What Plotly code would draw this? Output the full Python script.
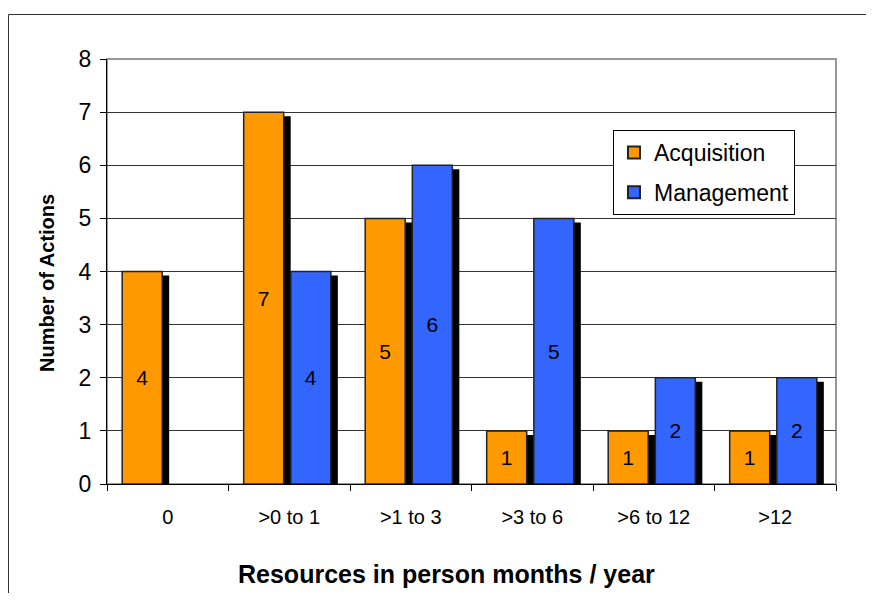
import plotly.graph_objects as go

categories = ["0", ">0 to 1", ">1 to 3", ">3 to 6", ">6 to 12", ">12"]
acquisition = [4, 7, 5, 1, 1, 1]
management = [None, 4, 6, 5, 2, 2]

ORANGE = "#FF9900"
BLUE = "#3366FF"
FONT = "Liberation Sans, Arial, sans-serif"

# page is offset by the 8px default body margin (on every side)
PAD = 8
W = 729.0   # plot width px
H = 425.0   # plot height px
PL, PT = 107, 59     # plot left/top on page
FIG_W = 874 - 2 * PAD
FIG_H = 601 - 2 * PAD
cat_px = W / len(categories)
bar_w = 40 / cat_px
off_acq = -0.375
off_mgmt = 0.013
sh_dx = 7 / cat_px
sh_dy = 4 / H * 8

def shadow(vals):
    return [None if v is None else v - sh_dy for v in vals]

fig = go.Figure()
fig.add_trace(go.Bar(x=categories, y=shadow(acquisition), offset=off_acq + sh_dx, width=bar_w,
                     marker=dict(color="black", line=dict(width=0)), showlegend=False, hoverinfo="skip"))
fig.add_trace(go.Bar(x=categories, y=shadow(management), offset=off_mgmt + sh_dx, width=bar_w,
                     marker=dict(color="black", line=dict(width=0)), showlegend=False, hoverinfo="skip"))
fig.add_trace(go.Bar(x=categories, y=acquisition, name="Acquisition", offset=off_acq, width=bar_w,
                     marker=dict(color=ORANGE, line=dict(color="#222", width=1.5)),
                     text=[str(v) for v in acquisition], textposition="inside", insidetextanchor="middle",
                     textangle=0, textfont=dict(color="black", size=21, family=FONT),
                     legendgroup="a"))
fig.add_trace(go.Bar(x=categories, y=management, name="Management", offset=off_mgmt, width=bar_w,
                     marker=dict(color=BLUE, line=dict(color="#222", width=1.5)),
                     text=["" if v is None else str(v) for v in management], textposition="inside",
                     insidetextanchor="middle", textangle=0,
                     textfont=dict(color="black", size=21, family=FONT),
                     legendgroup="m"))

def px_x(px):
    return (px - PL) / W

def px_y(py):
    return (PT + H - py) / H

fig.update_layout(
    width=FIG_W, height=FIG_H,
    margin=dict(l=PL - PAD, r=FIG_W - (PL - PAD) - int(W), t=PT - PAD,
                b=FIG_H - (PT - PAD) - int(H)),
    barmode="overlay",
    paper_bgcolor="white", plot_bgcolor="white",
    font=dict(family=FONT, color="black"),
    xaxis=dict(type="category", range=[-0.5, 5.5], tickson="boundaries", ticks="outside",
               ticklen=6, tickcolor="black", showline=True, linecolor="black", linewidth=1,
               showgrid=False, tickfont=dict(size=20), ticklabelstandoff=15, zeroline=False),
    yaxis=dict(range=[0, 8], dtick=1, ticks="outside", ticklen=6, tickcolor="black",
               showline=True, linecolor="black", linewidth=1, gridcolor="#333", gridwidth=1,
               tickfont=dict(size=23), ticklabelstandoff=4, zeroline=False),
    legend=dict(x=px_x(613), y=px_y(130), xanchor="left", yanchor="top",
                bgcolor="white", bordercolor="black", borderwidth=1,
                font=dict(size=23), tracegroupgap=7, itemsizing="constant"),
    shapes=[
        dict(type="rect", xref="paper", yref="paper", x0=0, x1=1, y0=0, y1=1,
             line=dict(color="#999", width=2), layer="below"),
        dict(type="line", xref="paper", yref="paper", x0=px_x(8.5), x1=px_x(8.5),
             y0=px_y(620), y1=px_y(14.5), line=dict(color="#333", width=1), layer="below"),
        dict(type="line", xref="paper", yref="paper", x0=px_x(8.5), x1=px_x(880),
             y0=px_y(14.5), y1=px_y(14.5), line=dict(color="#333", width=1), layer="below"),
    ],
    annotations=[
        dict(text="<b>Resources in person months / year</b>", xref="paper", yref="paper",
             x=px_x(446), y=px_y(574), showarrow=False, font=dict(size=25),
             xanchor="center", yanchor="middle"),
        dict(text="<b>Number of Actions</b>", xref="paper", yref="paper",
             x=px_x(47), y=px_y(283), showarrow=False, font=dict(size=20), textangle=-90,
             xanchor="center", yanchor="middle"),
    ],
)

fig.write_html("out.html")
